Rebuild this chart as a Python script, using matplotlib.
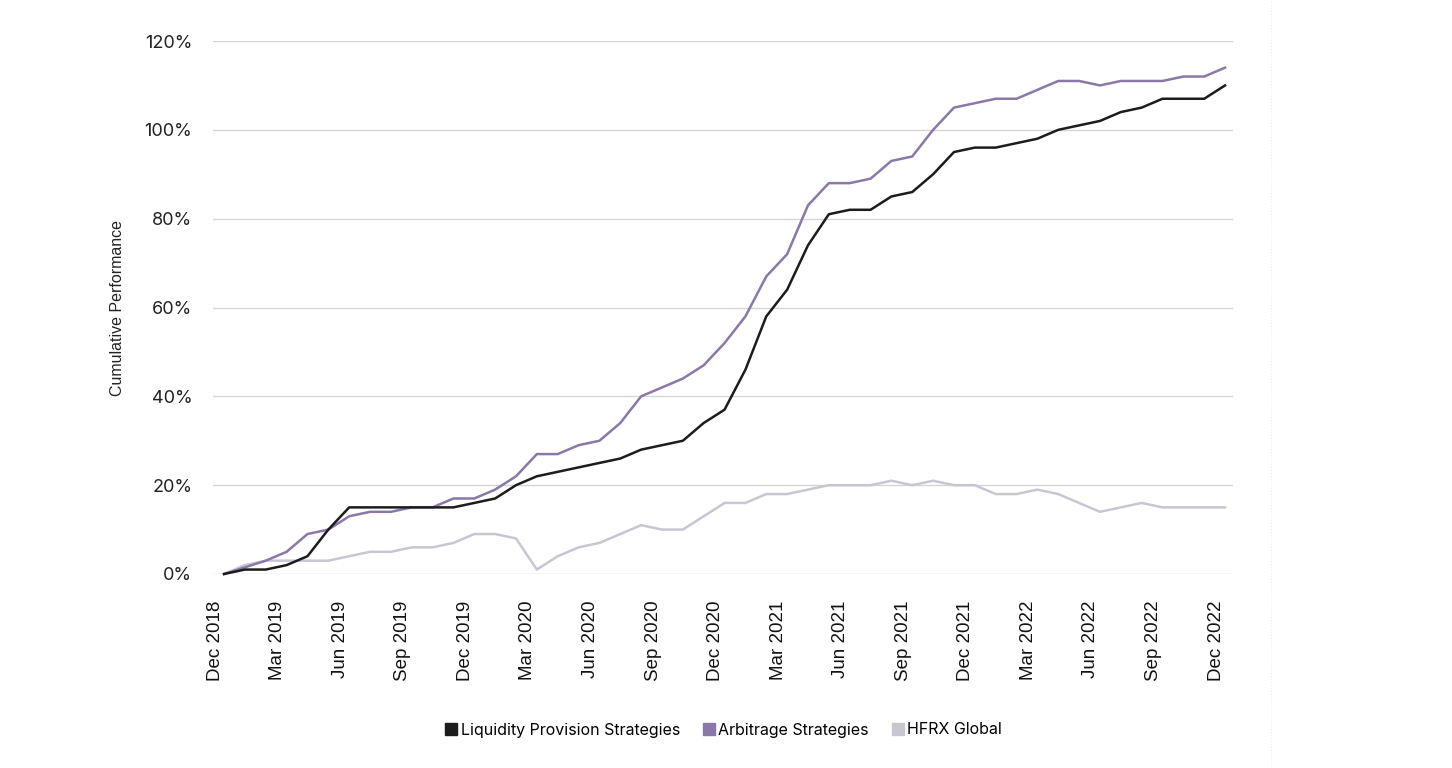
import matplotlib
matplotlib.use("Agg")
import matplotlib.pyplot as plt
import matplotlib.transforms as mtransforms
from matplotlib.lines import Line2D
from matplotlib.ticker import FuncFormatter

# monthly points, Dec 2018 .. Dec 2022
months = [
    "Dec 2018", "Jan 2019", "Feb 2019", "Mar 2019", "Apr 2019", "May 2019", "Jun 2019",
    "Jul 2019", "Aug 2019", "Sep 2019", "Oct 2019", "Nov 2019", "Dec 2019",
    "Jan 2020", "Feb 2020", "Mar 2020", "Apr 2020", "May 2020", "Jun 2020",
    "Jul 2020", "Aug 2020", "Sep 2020", "Oct 2020", "Nov 2020", "Dec 2020",
    "Jan 2021", "Feb 2021", "Mar 2021", "Apr 2021", "May 2021", "Jun 2021",
    "Jul 2021", "Aug 2021", "Sep 2021", "Oct 2021", "Nov 2021", "Dec 2021",
    "Jan 2022", "Feb 2022", "Mar 2022", "Apr 2022", "May 2022", "Jun 2022",
    "Jul 2022", "Aug 2022", "Sep 2022", "Oct 2022", "Nov 2022", "Dec 2022",
]

liquidity = [0, 1, 1, 2, 4, 10, 15, 15, 15, 15, 15, 15, 16, 17, 20, 22, 23, 24, 25,
             26, 28, 29, 30, 34, 37, 46, 58, 64, 74, 81, 82, 82, 85, 86, 90, 95, 96,
             96, 97, 98, 100, 101, 102, 104, 105, 107, 107, 107, 110]
arbitrage = [0, 1.5, 3, 5, 9, 10, 13, 14, 14, 15, 15, 17, 17, 19, 22, 27, 27, 29, 30,
             34, 40, 42, 44, 47, 52, 58, 67, 72, 83, 88, 88, 89, 93, 94, 100, 105, 106,
             107, 107, 109, 111, 111, 110, 111, 111, 111, 112, 112, 114]
hfrx = [0, 2, 3, 3, 3, 3, 4, 5, 5, 6, 6, 7, 9, 9, 8, 1, 4, 6, 7, 9, 11, 10, 10, 13,
        16, 16, 18, 18, 19, 20, 20, 20, 21, 20, 21, 20, 20, 18, 18, 19, 18, 16, 14,
        15, 16, 15, 15, 15, 15]

series_names = ["Liquidity Provision Strategies", "Arbitrage Strategies", "HFRX Global"]
colors = ["#1c1c1c", "#8a78a9", "#c9c6d2"]

fig = plt.figure(figsize=(14.52, 7.68), dpi=100)
fig.patch.set_facecolor("white")
ax = fig.add_axes([213 / 1452, 1 - 574 / 768, 1020 / 1452, 533 / 768])

x = list(range(len(months)))
for vals, color in zip([hfrx, arbitrage, liquidity], [colors[2], colors[1], colors[0]]):
    ax.plot(x, vals, color=color, linewidth=1.8, clip_on=False, zorder=3)

ax.set_xlim(-0.53, 48.38)
ax.set_ylim(0, 120)
ax.set_yticks([0, 20, 40, 60, 80, 100, 120])
ax.yaxis.set_major_formatter(FuncFormatter(lambda v, _: f"{int(v)}%"))
ax.grid(axis="y", color="#d6d6d6", linewidth=1.0)
ax.set_axisbelow(True)
for spine in ax.spines.values():
    spine.set_visible(False)

tick_pos = x[::3]
ax.set_xticks(tick_pos)
ax.set_xticklabels(months[::3], rotation=90, fontsize=13.5,
                   family=["Liberation Sans", "DejaVu Sans"], color="#111111")
ax.tick_params(axis="x", length=0, pad=19)
ax.tick_params(axis="y", length=0, pad=15, labelsize=13, labelcolor="#222222")
for lbl in ax.get_yticklabels():
    lbl.set_family(["Inter", "DejaVu Sans"])
shift = mtransforms.ScaledTranslation(-9 / 100, 0, fig.dpi_scale_trans)
for lbl in ax.get_xticklabels():
    lbl.set_transform(lbl.get_transform() + shift)

fig.text(118 / 1452, 1 - 307.5 / 768, "Cumulative Performance", rotation=90,
         ha="center", va="center", fontsize=11.5, color="#222222",
         family=["Liberation Sans", "DejaVu Sans"])

handles = [Line2D([], [], marker="s", linestyle="none", markersize=8.6,
                  markerfacecolor=c, markeredgecolor=c) for c in colors]
fig.legend(handles, series_names, loc="center", bbox_to_anchor=(723.5 / 1452, 1 - 730 / 768),
           ncol=3, frameon=False, handlelength=0.8, handletextpad=0.2, columnspacing=1.4,
           prop={"family": ["Inter", "DejaVu Sans"], "size": 11.5})

# faint page divider on the right
fig.add_artist(Line2D([1271 / 1452, 1271 / 1452], [0, 1], transform=fig.transFigure,
                      color="#ececec", linewidth=0.8, linestyle=":"))

fig.savefig("out.png", dpi=100, facecolor="white")
